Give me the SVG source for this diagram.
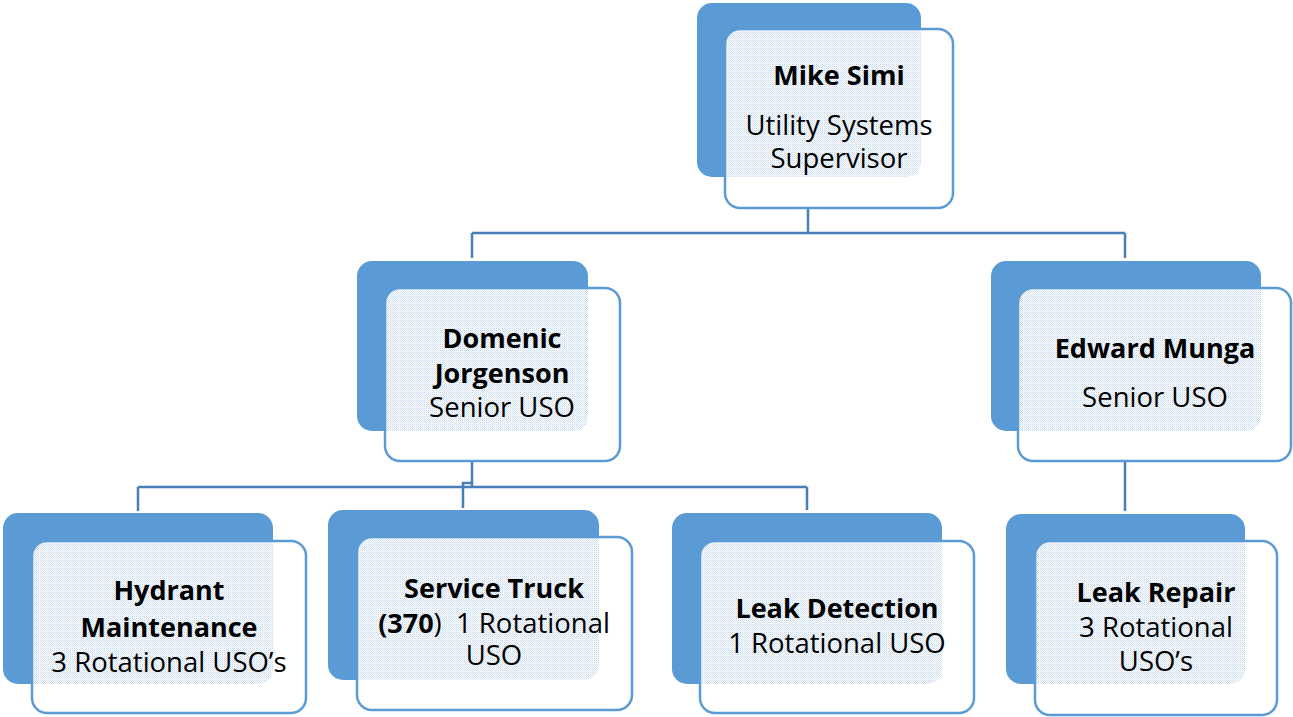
<svg xmlns="http://www.w3.org/2000/svg" width="1293" height="717" viewBox="0 0 1293 717">
  <defs>
    <pattern id="dots" width="2" height="2" patternUnits="userSpaceOnUse">
      <rect width="2" height="2" fill="#ffffff"/>
      <rect width="1" height="1" fill="#c3d7ee"/>
      <rect x="1" y="1" width="1" height="1" fill="#dbe7f5"/>
    </pattern>
    <style>
      .back { fill: #5b9bd5; }
      .face { fill: #ffffff; }
      .edge { fill: none; stroke: #5b9bd5; stroke-width: 2.5; }
      .overlap { fill: url(#dots); }
      .link { fill: none; stroke: #4a7ebb; stroke-width: 2.5; }
      .ghost { fill: none; stroke: #c3d7ee; stroke-width: 1.5; stroke-dasharray: 1.5 1.5; }
      text { font-family: "Open Sans", "Liberation Sans", sans-serif; font-size: 27.5px; fill: #000; text-anchor: middle; }
      .b { font-weight: 700; font-size: 27px; }
    </style>
  </defs>

  <!-- connectors -->
  <g id="connectors">
    <path class="link" d="M808 208 V233 M472 233 H1125 M472 233 V258 M1125 233 V258"/>
    <path class="link" d="M472 461 V487 M138 487 H807 M138 487 V511 M807 487 V510 M463 508 V483 H472"/>
    <path class="link" d="M1125 461 V511"/>
    <path class="ghost" d="M808 180 V207 M472 434 V460 M1125 434 V460"/>
  </g>

  <!-- Mike Simi -->
  <g id="node-mike">
    <rect class="back" x="697" y="3" width="224" height="174" rx="15"/>
    <rect class="face" x="725" y="29" width="228" height="179" rx="15"/>
    <path class="overlap" d="M740 29 H921 V162 A15 15 0 0 1 906 177 H725 V44 A15 15 0 0 1 740 29 Z"/>
    <rect class="edge" x="725" y="29" width="228" height="179" rx="15"/>
    <text class="b" x="839" y="85">Mike Simi</text>
    <text x="839" y="135">Utility Systems</text>
    <text x="839" y="168">Supervisor</text>
  </g>

  <!-- Domenic Jorgenson -->
  <g id="node-domenic">
    <rect class="back" x="357" y="261" width="231" height="170" rx="15"/>
    <rect class="face" x="385" y="288" width="235" height="173" rx="15"/>
    <path class="overlap" d="M400 288 H588 V416 A15 15 0 0 1 573 431 H385 V303 A15 15 0 0 1 400 288 Z"/>
    <rect class="edge" x="385" y="288" width="235" height="173" rx="15"/>
    <text class="b" x="502" y="348">Domenic</text>
    <text class="b" x="502" y="383">Jorgenson</text>
    <text x="502" y="417">Senior USO</text>
  </g>

  <!-- Edward Munga -->
  <g id="node-edward">
    <rect class="back" x="991" y="261" width="270" height="170" rx="15"/>
    <rect class="face" x="1018" y="288" width="273" height="173" rx="15"/>
    <path class="overlap" d="M1033 288 H1261 V416 A15 15 0 0 1 1246 431 H1018 V303 A15 15 0 0 1 1033 288 Z"/>
    <rect class="edge" x="1018" y="288" width="273" height="173" rx="15"/>
    <text class="b" x="1155" y="358">Edward Munga</text>
    <text x="1155" y="407">Senior USO</text>
  </g>

  <!-- Hydrant Maintenance -->
  <g id="node-hydrant">
    <rect class="back" x="3" y="513" width="270" height="171" rx="15"/>
    <rect class="face" x="32" y="541" width="274" height="172" rx="15"/>
    <path class="overlap" d="M47 541 H273 V669 A15 15 0 0 1 258 684 H32 V556 A15 15 0 0 1 47 541 Z"/>
    <rect class="edge" x="32" y="541" width="274" height="172" rx="15"/>
    <text class="b" x="169" y="600">Hydrant</text>
    <text class="b" x="169" y="637">Maintenance</text>
    <text x="169" y="672">3 Rotational USO’s</text>
  </g>

  <!-- Service Truck -->
  <g id="node-service">
    <rect class="back" x="328" y="510" width="271" height="170" rx="15"/>
    <rect class="face" x="357" y="537" width="275" height="173" rx="15"/>
    <path class="overlap" d="M372 537 H599 V665 A15 15 0 0 1 584 680 H357 V552 A15 15 0 0 1 372 537 Z"/>
    <rect class="edge" x="357" y="537" width="275" height="173" rx="15"/>
    <text class="b" x="494" y="598">Service Truck</text>
    <text x="494" y="633" xml:space="preserve"><tspan class="b">(370</tspan>)  1 Rotational</text>
    <text x="494" y="665">USO</text>
  </g>

  <!-- Leak Detection -->
  <g id="node-detection">
    <rect class="back" x="672" y="513" width="270" height="171" rx="15"/>
    <rect class="face" x="700" y="541" width="274" height="172" rx="15"/>
    <path class="overlap" d="M715 541 H942 V669 A15 15 0 0 1 927 684 H700 V556 A15 15 0 0 1 715 541 Z"/>
    <rect class="edge" x="700" y="541" width="274" height="172" rx="15"/>
    <text class="b" x="837" y="618">Leak Detection</text>
    <text x="837" y="653">1 Rotational USO</text>
  </g>

  <!-- Leak Repair -->
  <g id="node-repair">
    <rect class="back" x="1006" y="514" width="239" height="170" rx="15"/>
    <rect class="face" x="1035" y="541" width="242" height="174" rx="15"/>
    <path class="overlap" d="M1050 541 H1245 V669 A15 15 0 0 1 1230 684 H1035 V556 A15 15 0 0 1 1050 541 Z"/>
    <rect class="edge" x="1035" y="541" width="242" height="174" rx="15"/>
    <text class="b" x="1156" y="602">Leak Repair</text>
    <text x="1156" y="637">3 Rotational</text>
    <text x="1156" y="671">USO’s</text>
  </g>
</svg>
